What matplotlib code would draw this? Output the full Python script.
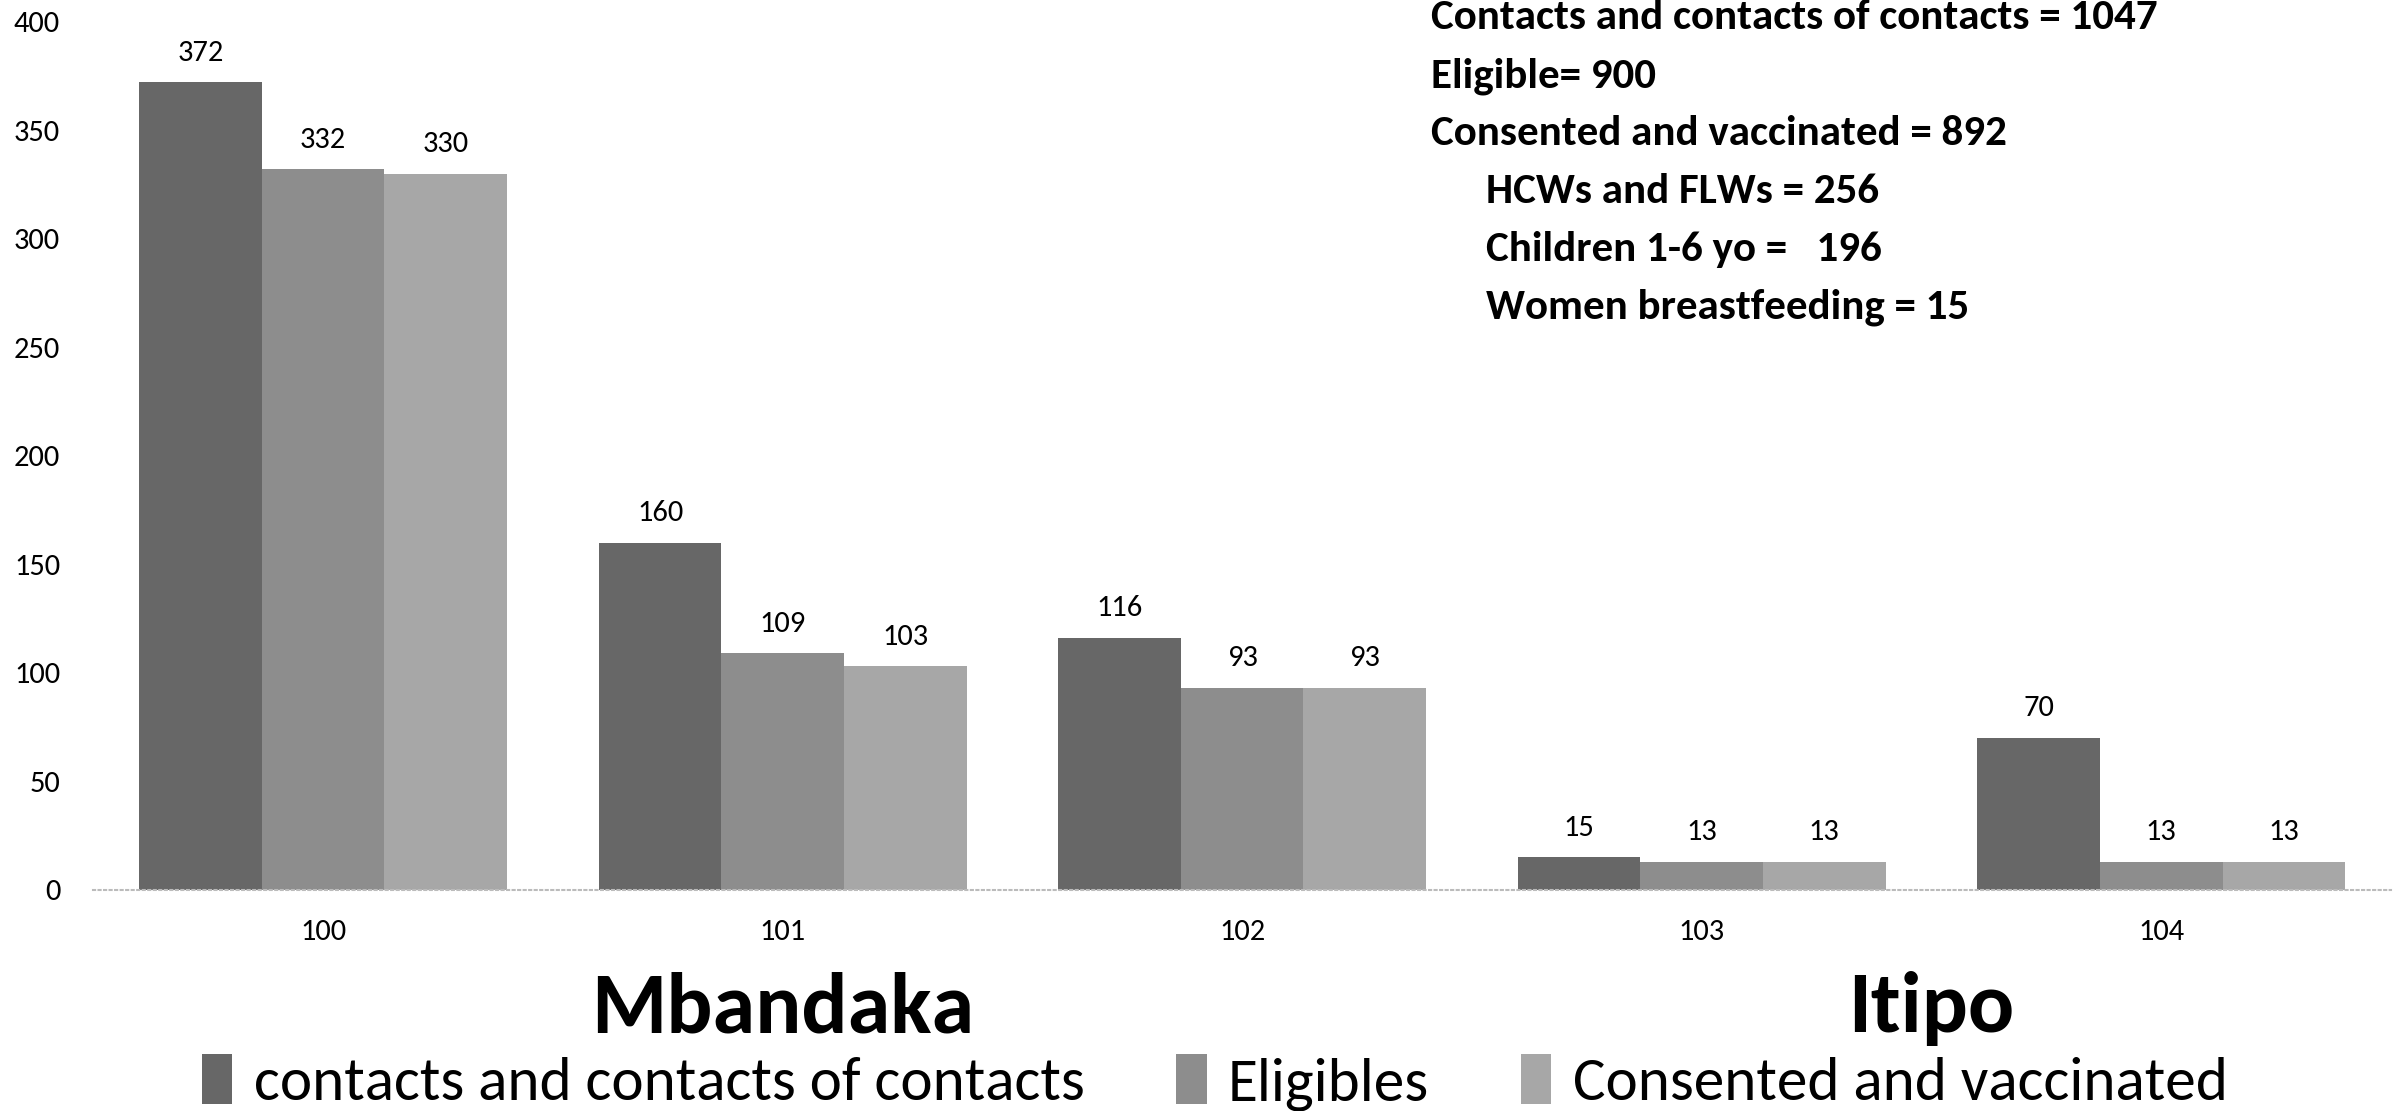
import matplotlib.pyplot as plt
import numpy as np

sites = ['100', '101', '102', '103', '104']
contacts = [372, 160, 116, 15, 70]
eligibles = [332, 109, 93, 13, 13]
vaccinated = [330, 103, 93, 13, 13]
series_names = ['contacts and contacts of contacts', 'Eligibles', 'Consented and vaccinated']
summary_lines = ['Contacts and contacts of contacts = 1047',
                 'Eligible= 900',
                 'Consented and vaccinated = 892']
subgroup_lines = ['HCWs and FLWs = 256',
                  'Children 1-6 yo =   196',
                  'Women breastfeeding = 15']

plt.rcParams['font.family'] = ['Carlito', 'Lato', 'DejaVu Sans']
colors = ['#676767', '#8d8d8d', '#a7a7a7']

fig = plt.figure(figsize=(24.03, 11.11), dpi=100)
ax = fig.add_axes([0.0389, 0.199, 0.9561, 0.7816])

x = np.arange(len(sites))
w = 0.8 / 3
for i, vals in enumerate([contacts, eligibles, vaccinated]):
    bars = ax.bar(x + (i - 1) * w, vals, w, color=colors[i], label=series_names[i])
    for b, v in zip(bars, vals):
        ax.annotate(str(v), (b.get_x() + b.get_width() / 2, v), xytext=(0, 12),
                    textcoords='offset points', ha='center', va='bottom', fontsize=22)

ax.set_xlim(-0.5, len(sites) - 0.5)
ax.set_ylim(0, 400)
ax.set_yticks(range(0, 401, 50))
ax.set_xticks(x)
ax.set_xticklabels(sites)
ax.tick_params(axis='both', length=0, labelsize=22)
ax.tick_params(axis='y', pad=24)
ax.tick_params(axis='x', pad=21)
for s in ['top', 'right', 'left']:
    ax.spines[s].set_visible(False)
ax.spines['bottom'].set_color('#bbbbbb')
ax.spines['bottom'].set_linestyle(':')
ax.spines['bottom'].set_linewidth(1.5)

# district names under the site labels
ax.text(1, -0.137, 'Mbandaka', transform=ax.get_xaxis_transform(), ha='center', va='center',
        fontsize=62, fontweight='bold')
ax.text(3.5, -0.137, 'Itipo', transform=ax.get_xaxis_transform(), ha='center', va='center',
        fontsize=62, fontweight='bold')

# totals block, sub-groups indented
for k, line in enumerate(summary_lines + subgroup_lines):
    xpos = 0.5955 if k < 3 else 0.6185
    fig.text(xpos, 0.984 - k * 0.0522, line, ha='left', va='center', fontsize=31, fontweight='bold')

leg = fig.legend(loc='center', bbox_to_anchor=(0.5055, 0.026), ncol=3, frameon=False,
                 fontsize=44, handlelength=0.5, handleheight=0.9, handletextpad=0.35,
                 columnspacing=1.5)

plt.savefig('out.png', dpi=100)
